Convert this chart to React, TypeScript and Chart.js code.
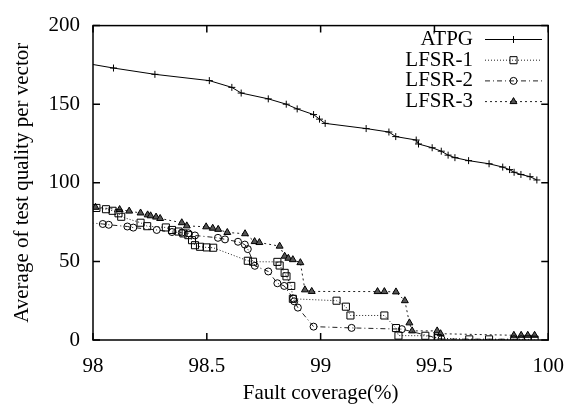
import React, { useEffect, useRef } from 'react';
import { Chart, registerables } from 'chart.js';

Chart.register(...registerables);

const FONT_FAMILY = '"Liberation Serif", "Times New Roman", serif';

const seriesLabels = ['ATPG', 'LFSR-1', 'LFSR-2', 'LFSR-3'];

const atpgX = [97.95, 98.09, 98.272, 98.511, 98.61, 98.651, 98.77, 98.849, 98.897, 98.969, 98.995, 99.02, 99.2, 99.3, 99.33, 99.42, 99.43, 99.49, 99.53, 99.56, 99.59, 99.65, 99.74, 99.8, 99.83, 99.85, 99.88, 99.92, 99.95];
const atpgY = [176.5, 173, 169, 165, 160.7, 157.1, 153.4, 150, 147, 143.4, 140.5, 137.8, 134.5, 132.3, 129.4, 127.2, 124.7, 122.3, 120.1, 117.6, 116, 114.1, 112.1, 110, 108.4, 106.7, 105.3, 103.9, 101.8];

const lfsr1X = [98.015, 98.057, 98.086, 98.112, 98.124, 98.209, 98.238, 98.32, 98.347, 98.376, 98.397, 98.419, 98.435, 98.448, 98.47, 98.499, 98.528, 98.68, 98.703, 98.81, 98.82, 98.842, 98.85, 98.871, 98.878, 99.07, 99.111, 99.131, 99.28, 99.331, 99.342, 99.46, 99.515, 99.653, 99.74, 99.91, 99.94];
const lfsr1Y = [84, 83.2, 82.2, 80.6, 78.4, 74.6, 72.4, 71.6, 70, 69, 67.8, 66.7, 63.5, 60.3, 59.3, 58.9, 58.7, 50.4, 49.8, 49.7, 47.4, 42.7, 40.5, 34.4, 26.2, 25, 21.2, 15.6, 15.6, 7.6, 2.8, 2.7, 1.2, 0.4, 0.4, 0.4, 0.2];

const lfsr2X = [97.98, 98.043, 98.069, 98.151, 98.177, 98.28, 98.347, 98.39, 98.419, 98.448, 98.549, 98.58, 98.637, 98.667, 98.68, 98.711, 98.77, 98.81, 98.84, 98.88, 98.884, 98.9, 98.969, 99.136, 99.357, 99.531, 99.849, 99.881];
const lfsr2Y = [74.6, 73.8, 73.3, 72.2, 71.5, 70, 68.7, 68.3, 67.9, 66.5, 65, 64, 62.5, 60.7, 57.8, 47.2, 43.6, 36.1, 34.4, 26.4, 24.6, 20.6, 8.5, 7.7, 6.9, 0.6, 0.5, 0.5];

const lfsr3X = [98.011, 98.117, 98.159, 98.209, 98.24, 98.253, 98.277, 98.295, 98.39, 98.412, 98.497, 98.526, 98.55, 98.59, 98.668, 98.71, 98.731, 98.82, 98.842, 98.858, 98.878, 98.911, 98.931, 98.961, 99.25, 99.28, 99.331, 99.37, 99.39, 99.402, 99.512, 99.527, 99.849, 99.881, 99.91, 99.94];
const lfsr3Y = [84.4, 83, 82, 80.8, 79.6, 79, 78.2, 77.3, 74.6, 72.6, 72, 71.1, 70.4, 68.4, 67.6, 62.6, 62, 59.7, 53.3, 52, 51.1, 49.2, 31.9, 30.9, 30.8, 30.8, 30.6, 25, 10.9, 5.8, 5.8, 4, 3, 3, 3, 3];

const xTicks = [98, 98.5, 99, 99.5, 100];
const yTicks = [0, 50, 100, 150, 200];
const xTitle = 'Fault coverage(%)';
const yTitle = 'Average of test quality per vector';

const toPoints = (xs: number[], ys: number[]) => xs.map((x, i) => ({ x, y: ys[i] }));

function drawMarker(ctx: CanvasRenderingContext2D, style: string, x: number, y: number, r: number, fill: string) {
  ctx.save();
  ctx.setLineDash([]);
  ctx.lineWidth = 1;
  ctx.strokeStyle = '#000';
  ctx.fillStyle = fill;
  ctx.beginPath();
  if (style === 'cross') {
    ctx.moveTo(x - r, y);
    ctx.lineTo(x + r, y);
    ctx.moveTo(x, y - r);
    ctx.lineTo(x, y + r);
    ctx.stroke();
  } else if (style === 'rect') {
    const s = r * Math.SQRT1_2;
    ctx.rect(x - s, y - s, 2 * s, 2 * s);
    ctx.fill();
    ctx.stroke();
  } else if (style === 'circle') {
    ctx.arc(x, y, r, 0, Math.PI * 2);
    ctx.fill();
    ctx.stroke();
  } else if (style === 'triangle') {
    const h = r * 1.5;
    const s = (r * 3) / Math.sqrt(3);
    ctx.moveTo(x - s / 2, y + h / 3 * 1);
    ctx.lineTo(x + s / 2, y + h / 3 * 1);
    ctx.lineTo(x, y - (h * 2) / 3);
    ctx.closePath();
    ctx.fill();
    ctx.stroke();
  }
  ctx.restore();
}

const framePlugin = {
  id: 'gnuplotFrame',
  afterDraw(chart: any) {
    const { ctx, chartArea } = chart;
    const { left, right, top, bottom } = chartArea;
    const xs = chart.scales.x;
    const ys = chart.scales.y;
    ctx.save();
    ctx.strokeStyle = '#000';
    ctx.lineWidth = 1.5;
    ctx.setLineDash([]);
    ctx.strokeRect(left, top, right - left, bottom - top);
    ctx.lineWidth = 1.5;
    const tl = 7;
    ctx.beginPath();
    xTicks.forEach((v) => {
      const px = xs.getPixelForValue(v);
      ctx.moveTo(px, bottom);
      ctx.lineTo(px, bottom - tl);
      ctx.moveTo(px, top);
      ctx.lineTo(px, top + tl);
    });
    yTicks.forEach((v) => {
      const py = ys.getPixelForValue(v);
      ctx.moveTo(left, py);
      ctx.lineTo(left + tl, py);
      ctx.moveTo(right, py);
      ctx.lineTo(right - tl, py);
    });
    ctx.stroke();

    // legend (gnuplot style: label then sample)
    ctx.font = `21px ${FONT_FAMILY}`;
    ctx.fillStyle = '#000';
    ctx.textAlign = 'right';
    ctx.textBaseline = 'middle';
    chart.data.datasets.forEach((ds: any, i: number) => {
      const y = 39.5 + i * 20.7;
      ctx.fillText(ds.label, 473, y);
      ctx.beginPath();
      ctx.lineWidth = 1;
      ctx.strokeStyle = ds.borderColor;
      ctx.setLineDash(ds.borderDash || []);
      ctx.moveTo(485, y);
      ctx.lineTo(542, y);
      ctx.stroke();
      ctx.setLineDash([]);
      drawMarker(ctx, ds.pointStyle, 513.5, y, ds.pointRadius, ds.pointBackgroundColor);
    });
    ctx.restore();
  },
};

export default function App() {
  const canvasRef = useRef<HTMLCanvasElement | null>(null);

  useEffect(() => {
    document.body.style.margin = '0';
    const canvas = canvasRef.current;
    if (!canvas) return;
    const font = { family: FONT_FAMILY, size: 21 };
    const chart = new Chart(canvas, {
      type: 'scatter',
      data: {
        datasets: [
          {
            label: seriesLabels[0],
            data: toPoints(atpgX, atpgY),
            showLine: true,
            borderColor: '#000',
            borderWidth: 1,
            pointStyle: 'cross',
            pointRadius: 3.5,
            pointBorderWidth: 1,
            pointBorderColor: '#000',
            pointBackgroundColor: '#000',
            tension: 0,
          },
          {
            label: seriesLabels[1],
            data: toPoints(lfsr1X, lfsr1Y),
            showLine: true,
            borderColor: '#222',
            borderWidth: 1,
            borderDash: [1, 2],
            pointStyle: 'rect',
            pointRadius: 5,
            pointBorderWidth: 1,
            pointBorderColor: '#000',
            pointBackgroundColor: 'rgba(0,0,0,0)',
            tension: 0,
          },
          {
            label: seriesLabels[2],
            data: toPoints(lfsr2X, lfsr2Y),
            showLine: true,
            borderColor: '#222',
            borderWidth: 1,
            borderDash: [5, 3, 1, 3],
            pointStyle: 'circle',
            pointRadius: 3.5,
            pointBorderWidth: 1,
            pointBorderColor: '#000',
            pointBackgroundColor: 'rgba(0,0,0,0)',
            tension: 0,
          },
          {
            label: seriesLabels[3],
            data: toPoints(lfsr3X, lfsr3Y),
            showLine: true,
            borderColor: '#222',
            borderWidth: 1,
            borderDash: [2, 3],
            pointStyle: 'triangle',
            pointRadius: 4,
            pointBorderWidth: 1,
            pointBorderColor: '#000',
            pointBackgroundColor: '#555',
            tension: 0,
          },
        ],
      },
      options: {
        animation: false,
        responsive: false,
        maintainAspectRatio: false,
        layout: { padding: { top: 15, right: 24, left: 0, bottom: 0 } },
        plugins: {
          legend: { display: false },
          tooltip: { enabled: false },
        },
        scales: {
          x: {
            type: 'linear',
            min: 98,
            max: 100,
            afterBuildTicks: (s: any) => {
              s.ticks = xTicks.map((v) => ({ value: v }));
            },
            afterFit: (s: any) => {
              s.height = 70;
            },
            ticks: {
              font,
              color: '#000',
              padding: 14,
              maxRotation: 0,
              autoSkip: false,
              callback: (v: any) => String(v),
            },
            grid: { display: false, drawTicks: false },
            border: { display: false },
            title: {
              display: true,
              text: xTitle,
              font,
              color: '#000',
              padding: { top: 0, bottom: 4 },
            },
          },
          y: {
            type: 'linear',
            min: 0,
            max: 200,
            afterBuildTicks: (s: any) => {
              s.ticks = yTicks.map((v) => ({ value: v }));
            },
            afterFit: (s: any) => {
              s.width = 93;
            },
            ticks: {
              font,
              color: '#000',
              padding: 13,
              autoSkip: false,
              callback: (v: any) => String(v),
            },
            grid: { display: false, drawTicks: false },
            border: { display: false },
            title: {
              display: true,
              text: yTitle,
              font,
              color: '#000',
              padding: { top: 10, bottom: 0 },
            },
          },
        },
      } as any,
      plugins: [framePlugin],
    });
    return () => chart.destroy();
  }, []);

  return (
    <div style={{ width: 578, height: 410, background: '#fff' }}>
      <canvas ref={canvasRef} width={578} height={410} style={{ display: 'block', width: 578, height: 410 }} />
    </div>
  );
}
